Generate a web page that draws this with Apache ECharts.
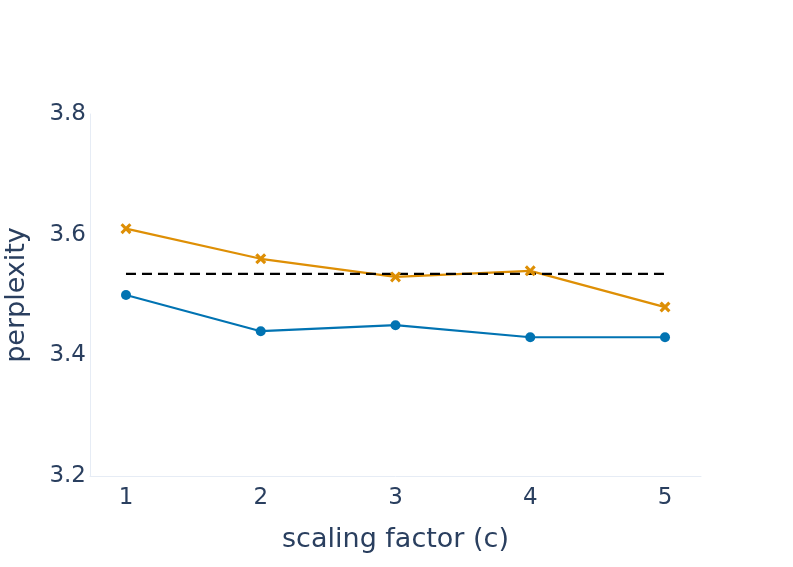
<!DOCTYPE html>
<html>
<head>
<meta charset="utf-8">
<script src="https://cdn.jsdelivr.net/npm/echarts@6/dist/echarts.min.js"></script>
<style>html,body{margin:0;padding:0;background:#fff;}#chart{width:793px;height:567px;}</style>
</head>
<body>
<div id="chart"></div>
<script>
const scalingFactors = [1, 2, 3, 4, 5];
const bluePerplexity = [3.50, 3.44, 3.45, 3.43, 3.43];
const orangePerplexity = [3.61, 3.56, 3.53, 3.54, 3.48];
const baselinePerplexity = [3.535, 3.535, 3.535, 3.535, 3.535];
const yTicks = [3.2, 3.4, 3.6, 3.8];

const pair = (xs, ys) => xs.map((x, i) => [x, ys[i]]);
const textColor = '#2a3f5f';
const font = 'DejaVu Sans';
const xMark = 'path://M0,2 L2,0 L5,3 L8,0 L10,2 L7,5 L10,8 L8,10 L5,7 L2,10 L0,8 L3,5 Z';

const chart = echarts.init(document.getElementById('chart'));
chart.setOption({
  backgroundColor: '#fff',
  animation: false,
  grid: { left: 90, right: 92, top: 114, bottom: 91, containLabel: false, outerBoundsMode: 'none' },
  xAxis: {
    type: 'value',
    min: 0.733, max: 5.267,
    name: 'scaling factor (c)',
    nameLocation: 'middle',
    nameGap: 50,
    nameTextStyle: { color: textColor, fontSize: 27, fontFamily: font },
    axisLine: { show: true, lineStyle: { color: '#e6ecf5', width: 1 } },
    axisTick: { show: false },
    splitLine: { show: false },
    axisLabel: {
      customValues: scalingFactors,
      color: textColor, fontSize: 23, fontFamily: font, margin: 11
    }
  },
  yAxis: {
    type: 'value',
    min: 3.2, max: 3.8, interval: 0.2,
    name: 'perplexity',
    nameLocation: 'middle',
    nameGap: 60,
    nameTextStyle: { color: textColor, fontSize: 27, fontFamily: font },
    axisLine: { show: true, lineStyle: { color: '#e6ecf5', width: 1 } },
    axisTick: { show: false },
    splitLine: { show: false },
    axisLabel: {
      customValues: yTicks,
      formatter: v => v.toFixed(1),
      padding: [3, 0, 0, 0],
      color: textColor, fontSize: 23, fontFamily: font, margin: 4
    }
  },
  series: [
    {
      type: 'line',
      data: pair(scalingFactors, bluePerplexity),
      symbol: 'circle', symbolSize: 10,
      lineStyle: { color: '#0173b2', width: 2.2 },
      itemStyle: { color: '#0173b2' }
    },
    {
      type: 'line',
      data: pair(scalingFactors, orangePerplexity),
      symbol: xMark, symbolSize: 11,
      lineStyle: { color: '#de8f05', width: 2.2 },
      itemStyle: { color: '#de8f05' }
    },
    {
      type: 'line',
      data: pair(scalingFactors, baselinePerplexity),
      symbol: 'none',
      lineStyle: { color: '#000', width: 2.2, type: [10, 6] }
    }
  ]
});
</script>
</body>
</html>
